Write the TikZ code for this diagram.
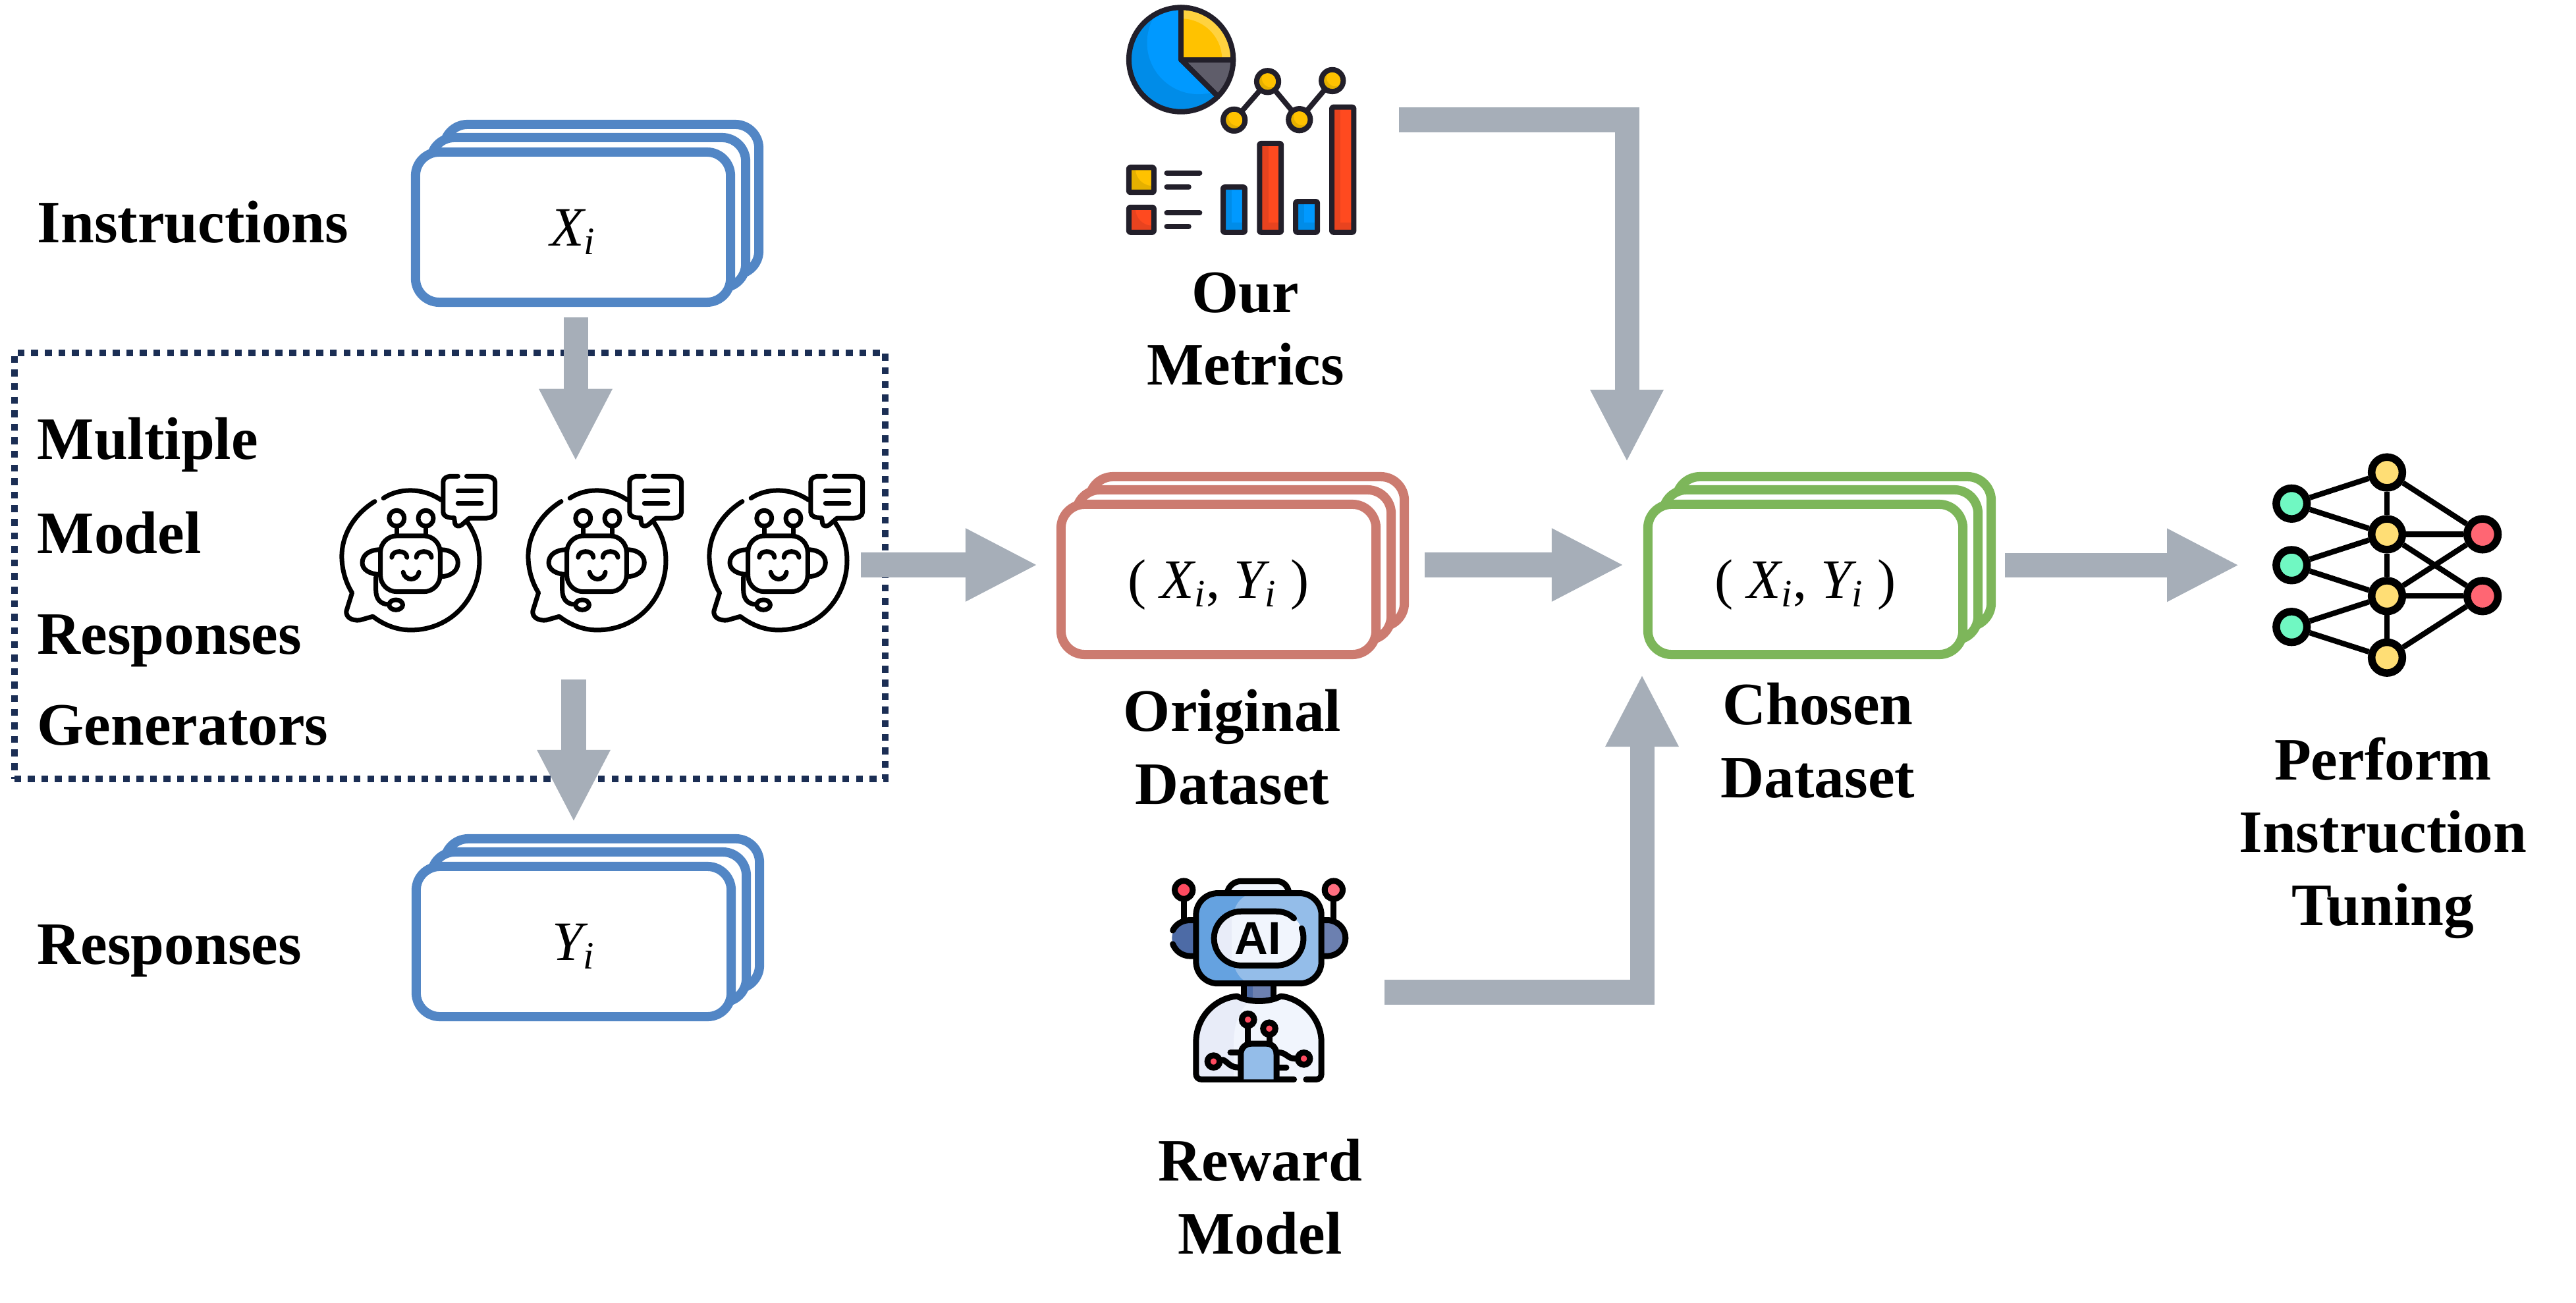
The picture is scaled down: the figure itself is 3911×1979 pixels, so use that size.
\documentclass[tikz,border=0pt]{standalone}
\usepackage{fontspec}
\setmainfont{Liberation Serif}
\newfontfamily\aifont{Liberation Sans}
\usepackage{xcolor}
\usepackage{tikz}
\usetikzlibrary{arrows.meta}
\definecolor{cardblue}{HTML}{5286C5}
\definecolor{cardred}{HTML}{CC7B70}
\definecolor{cardgreen}{HTML}{7DB65A}
\definecolor{flowgray}{HTML}{A6AEB8}
\definecolor{boxnavy}{HTML}{1B2E54}
\definecolor{ink}{HTML}{221F2A}
\definecolor{piea}{HTML}{0099FF}
\definecolor{pieb}{HTML}{008CE8}
\definecolor{piec}{HTML}{FFC200}
\definecolor{pied}{HTML}{FFD23F}
\definecolor{piee}{HTML}{5F5D6A}
\definecolor{dotdark}{HTML}{E5B000}
\definecolor{bara}{HTML}{FF4A1F}
\definecolor{barb}{HTML}{E8431F}
\definecolor{robota}{HTML}{65A2E0}
\definecolor{robotb}{HTML}{94BDE9}
\definecolor{robotc}{HTML}{F1F5FD}
\definecolor{robotd}{HTML}{E8ECF8}
\definecolor{robote}{HTML}{4D6BA6}
\definecolor{robotf}{HTML}{6C80B0}
\definecolor{robotg}{HTML}{FF4B60}
\definecolor{roboth}{HTML}{FF6F81}
\definecolor{netgreen}{HTML}{70F8C2}
\definecolor{netyellow}{HTML}{FFDE75}
\definecolor{netred}{HTML}{FF6673}
\tikzset{
    card/.style={rectangle,rounded corners=0.36cm,line width=0.14cm,fill=white,
        minimum width=4.78cm,minimum height=2.28cm,inner sep=0pt},
    cardtext/.style={inner sep=0pt,anchor=base,font=\fontsize{24}{28}\selectfont},
    flow/.style={line width=0.37cm,color=flowgray,-{Triangle[length=1.1cm,width=1.03cm]}},
    tag/.style={font=\fontsize{26}{31.3}\selectfont\bfseries,inner sep=0pt,anchor=base west},
    tagmid/.style={font=\fontsize{26}{31.3}\selectfont\bfseries,inner sep=0pt,anchor=base,align=center},
    iconspot/.style={rectangle,inner sep=0pt,minimum width=#1},
    neuron/.style={circle,draw=black,line width=0.115cm,minimum size=0.467cm,inner sep=0pt},
    iconink/.style={line width=0.08cm,color=ink,line cap=round,line join=round},
    botink/.style={line width=0.07cm,color=black,line cap=round,line join=round},
    robotink/.style={line width=0.09cm,color=black,line cap=round,line join=round},
}
\newcommand{\idx}[1]{$\mathit{#1}_{\mathit{i}}$}
\newcommand{\cardstack}[5]{
    \node[card,draw=#4] (#1c) at (#2+43,#3-42) {};
    \node[card,draw=#4] (#1b) at (#2+23,#3-22) {};
    \node[card,draw=#4] (#1) at (#2,#3) {};
    \node[cardtext] (#1t) at ([yshift=-0.28cm]#1.center) {#5};
}
\newcommand{\statbar}[6]{
    \fill[#6] (#1,#2) rectangle (#3,#4);
    \fill[#5] (#1+40,#2) rectangle (#3,#4-43);
    \draw[iconink,rounded corners=0.02cm] (#1,#2) rectangle (#3,#4);
}
\newcommand{\statkey}[3]{
    \begin{scope}
        \clip (192,#1) rectangle (306,#1+114);
        \fill[#3] (192,#1) rectangle (306,#1+114);
        \fill[#2] (300,#1+6) circle (78);
    \end{scope}
    \draw[iconink,rounded corners=0.02cm] (192,#1) rectangle (306,#1+114);
    \draw[iconink] (365,#1+26) -- (515,#1+26);
    \draw[iconink] (365,#1+88) -- (465,#1+88);
}
\newcommand{\botchat}[2]{
    \node[iconspot=2.28cm,minimum height=2.37cm] (#1) at (#2+154,840) {};
    \begin{scope}[shift={(#2,700)},x=0.00574cm,y=-0.00333cm]
        \draw[botink] (178,170) .. controls (200,145) and (225,135) .. (248,135)
            .. controls (280,135) and (305,150) .. (330,178);
        \draw[botink] (155,185) .. controls (95,250) and (65,350) .. (68,450)
            .. controls (70,510) and (80,560) .. (95,602) -- (80,685)
            .. controls (78,715) and (95,730) .. (115,727) -- (150,710)
            .. controls (180,750) and (215,772) .. (250,772)
            .. controls (360,772) and (432,620) .. (432,455)
            .. controls (432,385) and (420,330) .. (400,280);
        \draw[botink] (375,70) -- (358,70) .. controls (345,70) and (336,80) .. (336,95)
            -- (336,235) .. controls (336,250) and (345,260) .. (365,260)
            -- (367,285) .. controls (368,298) and (378,302) .. (385,292) -- (405,262)
            -- (445,262) .. controls (462,262) and (473,250) .. (473,235)
            -- (473,95) .. controls (473,80) and (462,70) .. (445,70) -- (398,70);
        \draw[botink] (375,138) -- (437,138);
        \draw[botink] (375,193) -- (437,193);
        \draw[botink,rounded corners=0.25cm] (170,342) rectangle (328,597);
        \draw[botink] (213,342) -- (213,298);
        \draw[botink] (290,342) -- (290,298);
        \draw[botink] (213,262) circle[x radius=20,y radius=36];
        \draw[botink] (290,262) circle[x radius=20,y radius=36];
        \draw[botink] (170,405) .. controls (140,405) and (122,430) .. (122,465)
            .. controls (122,495) and (140,518) .. (170,518);
        \draw[botink] (328,405) .. controls (358,405) and (375,430) .. (375,465)
            .. controls (375,500) and (358,528) .. (328,528);
        \draw[botink] (200,440) .. controls (200,405) and (240,405) .. (240,440);
        \draw[botink] (265,440) .. controls (265,405) and (305,405) .. (305,440);
        \draw[botink] (230,508) .. controls (235,550) and (268,550) .. (272,508);
        \draw[botink] (158,530) -- (158,590) .. controls (158,630) and (170,655) .. (192,655);
        \draw[botink] (211,657) circle[x radius=18,y radius=23];
    \end{scope}
}

\begin{document}
\begin{tikzpicture}[x=0.01cm,y=-0.01cm]
        \useasboundingbox (0,0) rectangle (3911,1979);

        \node[rectangle,draw=boxnavy,line width=0.1cm,dash pattern=on 0.105cm off 0.101cm,
            minimum width=13.22cm,minimum height=6.47cm,inner sep=0pt] (gens) at (683,859.5) {};

        \cardstack{instr}{870}{345}{cardblue}{\idx{X}\hspace{2.8pt}}
        \cardstack{resp}{871}{1430}{cardblue}{\idx{Y}\hspace{2.8pt}}
        \cardstack{orig}{1850}{880}{cardred}{( \idx{X}, \idx{Y} )\hspace{8pt}}
        \cardstack{chosen}{2741}{880}{cardgreen}{( \idx{X}, \idx{Y} )\hspace{11.4pt}}

        \node[tag] (tinstr) at (56,369) {Instructions};
        \node[tag] (tmulti) at (56,697) {Multiple};
        \node[tag] (tmodel) at (56,840) {Model};
        \node[tag] (tresps) at (56,993) {Responses};
        \node[tag] (tgener) at (56,1131) {Generators};
        \node[tag] (tresp) at (56,1464) {Responses};
        \node[tagmid] (tmetric) at (1891,585) {Our\\Metrics};
        \node[tagmid] (torig) at (1871,1221) {Original\\Dataset};
        \node[tagmid] (tchosen) at (2760,1211) {Chosen\\Dataset};
        \node[tagmid] (treward) at (1913,1904) {Reward\\Model};
        \node[tagmid] (tperf) at (3618,1405) {Perform\\Instruction\\Tuning};

        \botchat{bota}{480}
        \botchat{botb}{763}
        \botchat{botc}{1038}

        \node[iconspot=3.5cm,minimum height=3.5cm] (metrics) at (1885,182) {};
        \begin{scope}[shift={(1650,0)},x=0.00333cm,y=-0.00333cm]
            \begin{scope}
                \clip (430,272) circle (238);
                \fill[pieb] (430,272) circle (238);
                \fill[piea] (510,195) circle (235);
                \fill[pied] (430,272) -- (430,30) -- (672,30) -- (672,272) -- cycle;
                \fill[piec] (430,272) -- (430,85) arc[start angle=-90,end angle=0,radius=187] -- cycle;
                \fill[piee] (430,272) -- (680,272) -- (680,522) -- cycle;
            \end{scope}
            \draw[iconink] (430,272) circle (238);
            \draw[iconink] (430,34) -- (430,272) -- (668,272);
            \draw[iconink] (430,272) -- (598,440);
            \draw[iconink] (672,548) -- (825,372) -- (970,546) -- (1120,368);
            \foreach \px/\py in {672/548,825/372,970/546,1120/368} {
                \fill[dotdark] (\px,\py) circle (50);
                \begin{scope}
                    \clip (\px,\py) circle (50);
                    \fill[piec] (\px+14,\py-14) circle (40);
                \end{scope}
                \draw[iconink] (\px,\py) circle (50);
            }
            \statbar{622}{854}{721}{1060}{piea}{pieb}
            \statbar{788}{655}{887}{1060}{bara}{barb}
            \statbar{953}{920}{1052}{1060}{piea}{pieb}
            \statbar{1118}{489}{1218}{1060}{bara}{barb}
            \statkey{764}{piec}{dotdark}
            \statkey{946}{bara}{barb}
        \end{scope}

        \node[iconspot=2.71cm,minimum height=3.12cm] (reward) at (1912,1489) {};
        \begin{scope}[shift={(1720,1300)},x=0.00333cm,y=-0.00333cm]
            \draw[robotink,fill=robotc] (430,170) .. controls (435,135) and (465,115) .. (495,115)
                -- (655,115) .. controls (685,115) and (708,135) .. (712,170);
            \draw[robotink] (232,155) -- (232,290);
            \draw[robotink] (916,155) -- (916,290);
            \draw[robotink,fill=robotg] (232,155) circle (41);
            \draw[robotink,fill=roboth] (916,155) circle (41);
            \fill[robote] (290,293) -- (262,293) .. controls (215,293) and (178,330) .. (178,375)
                .. controls (178,420) and (215,457) .. (262,457) -- (290,457) -- cycle;
            \draw[robotink] (290,293) -- (262,293) .. controls (225,293) and (195,312) .. (182,340);
            \draw[robotink] (182,402) .. controls (195,435) and (225,457) .. (262,457) -- (290,457);
            \draw[robotink,fill=robotf] (860,293) -- (886,293) .. controls (933,293) and (970,330) .. (970,375)
                .. controls (970,420) and (933,457) .. (886,457) -- (860,457);
            \fill[robotf] (547,582) rectangle (642,660);
            \fill[robote] (505,582) rectangle (547,660);
            \draw[robotink] (505,582) -- (505,640);
            \draw[robotink] (642,582) -- (642,640);
            \begin{scope}
                \clip[rounded corners=0.33cm] (288,170) rectangle (860,582);
                \fill[robota] (288,170) rectangle (860,582);
                \fill[robotb] (540,170) .. controls (480,190) and (455,240) .. (455,300)
                    -- (455,450) .. controls (455,510) and (480,560) .. (530,582)
                    -- (860,582) -- (860,170) -- cycle;
            \end{scope}
            \draw[robotink,rounded corners=0.33cm] (288,170) rectangle (860,582);
            \begin{scope}
                \clip (495,253) .. controls (425,253) and (370,310) .. (370,376)
                    .. controls (370,445) and (425,500) .. (495,500) -- (655,500)
                    .. controls (725,500) and (778,445) .. (778,376)
                    .. controls (778,310) and (725,253) .. (655,253) -- cycle;
                \fill[robotc] (360,240) rectangle (790,510);
                \fill[robotd] (360,240) rectangle (452,510);
            \end{scope}
            \draw[robotink] (735,285) .. controls (710,260) and (680,253) .. (650,253) -- (495,253)
                .. controls (425,253) and (370,310) .. (370,376)
                .. controls (370,445) and (425,500) .. (495,500) -- (655,500)
                .. controls (725,500) and (778,445) .. (778,376)
                .. controls (778,360) and (776,345) .. (770,330);
            \node[font=\aifont\bfseries\fontsize{20}{20}\selectfont,inner sep=0pt] (aimark) at (570,375) {AI};
            \fill[robotc] (475,640) .. controls (370,650) and (288,740) .. (288,850)
                -- (288,1020) -- (860,1020) -- (860,850)
                .. controls (860,740) and (770,650) .. (675,640)
                .. controls (620,670) and (530,670) .. (475,640) -- cycle;
            \fill[robotd] (475,648) .. controls (370,655) and (295,740) .. (295,850)
                -- (295,1010) -- (460,1010) -- (460,850) .. controls (460,760) and (490,700) .. (530,665) -- cycle;
            \draw[robotink] (735,1020) -- (315,1020) .. controls (298,1020) and (288,1010) .. (288,995)
                -- (288,850) .. controls (288,740) and (370,650) .. (475,640)
                .. controls (530,670) and (620,670) .. (675,640)
                .. controls (770,650) and (860,740) .. (860,850)
                -- (860,995) .. controls (860,1010) and (850,1020) .. (835,1020) -- (790,1020);
            \draw[robotink,fill=robotb] (492,1020) -- (492,905) .. controls (492,875) and (515,857) .. (540,857)
                -- (610,857) .. controls (635,857) and (655,875) .. (655,905) -- (655,1020);
            \draw[robotink] (525,787) -- (525,857);
            \draw[robotink] (622,828) -- (622,857);
            \draw[robotink] (445,897) -- (492,897);
            \draw[robotink] (408,930) .. controls (430,935) and (440,965) .. (480,965);
            \draw[robotink] (665,897) .. controls (700,897) and (705,925) .. (740,925);
            \draw[robotink] (665,965) -- (700,965);
            \foreach \px/\py in {525/747,622/788,368/938,780/925} {
                \draw[line width=0.09cm,fill=robotg] (\px,\py) circle (28);
            }
        \end{scope}

        \begin{scope}[shift={(3420,660)},x=0.00333cm,y=-0.00333cm]
            \foreach \nname/\px/\py/\ncol in {ina/178/315/netgreen,inb/178/596/netgreen,inc/178/878/netgreen,
                mida/613/173/netyellow,midb/613/455/netyellow,midc/613/737/netyellow,midd/613/1018/netyellow,
                outa/1049/455/netred,outb/1049/737/netred} {
                \node[neuron,fill=\ncol] (\nname) at (\px,\py) {};
            }
            \foreach \na/\nb in {ina/mida,ina/midb,inb/midb,inb/midc,inc/midc,inc/midd,
                mida/midb,midb/midc,midc/midd,mida/outa,midb/outa,midc/outa,midb/outb,midc/outb,midd/outb} {
                \draw[line width=0.083cm] (\na) -- (\nb);
            }
        \end{scope}

        \coordinate (metricsin) at (2470,702);
        \coordinate (rewardin) at (2493,1024);
        \coordinate (rewardout) at (2102,1507);

        \draw[flow,shorten <=0.16cm,shorten >=0.2cm] ([xshift=0.04cm]instr.south) -- ([xshift=0.04cm]instr.south |- botb.north);
        \draw[flow,shorten <=0.73cm,shorten >=0.18cm] (resp.north |- botb.south) -- (resp.north |- respc.north);
        \draw[flow,shorten >=0.28cm] (botc.east |- origb.center) -- (orig.west |- origb.center);
        \draw[flow,shorten <=0.24cm,shorten >=0.29cm] (origc.east |- origb.center) -- (chosen.west |- origb.center);
        \draw[flow,shorten <=0.14cm,shorten >=0.5cm] (chosenc.east |- inb.west) -- (inb.west);
        \draw[flow,shorten <=0.63cm] (metrics.east) -| (metricsin);
        \draw[flow] (rewardout) -| (rewardin);

\end{tikzpicture}
\end{document}
